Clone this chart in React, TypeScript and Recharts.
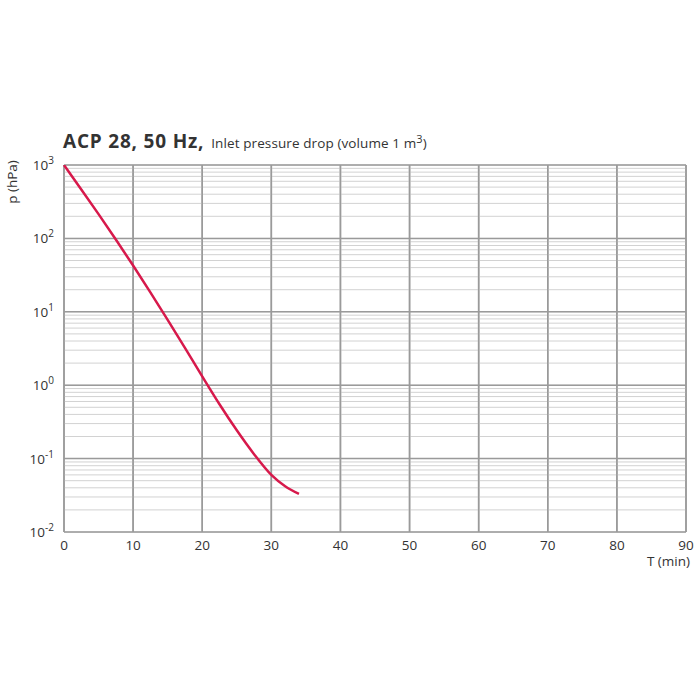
import React from 'react';
import { LineChart, Line, XAxis, YAxis, CartesianGrid, ReferenceLine } from 'recharts';

// inlet pressure drop, ACP 28 @ 50 Hz, 1 m3 volume
const timeMin = [0, 2.5, 5, 7.5, 10, 12.5, 15, 17.5, 20, 22.5, 25, 27.5, 30, 32, 34];
const pressureHpa = [1000, 465, 214, 96.6, 42.7, 18.4, 7.76, 3.22, 1.32, 0.55, 0.243, 0.115, 0.06, 0.042, 0.033];

const xTicks = [0, 10, 20, 30, 40, 50, 60, 70, 80, 90];
const decades = [0.01, 0.1, 1, 10, 100, 1000];
const mantissas = [1, 2, 3, 4, 5, 6, 7, 8, 9];

const data = timeMin.map((t, i) => ({ t, p: pressureHpa[i] }));
const minorTicks = decades.slice(0, -1).flatMap((d) => mantissas.map((m) => +(m * d).toPrecision(3))).concat([1000]);

const FONT = '"Open Sans", "DejaVu Sans", sans-serif';
const TEXT = '#333';

const DecadeTick = ({ x, y, payload }: any) => {
  const v = payload.value;
  const exp = Math.round(Math.log10(v));
  if (Math.abs(v - Math.pow(10, exp)) > 1e-9 * v) return null;
  return (
    <text x={x - 2} y={y + 5} textAnchor="end" fontSize={13.5} fill={TEXT} fontFamily={FONT}>
      10
      <tspan dy={-6} fontSize={10}>{exp}</tspan>
    </text>
  );
};

export default function App() {
  return (
    <div style={{ position: 'absolute', left: 0, top: 0, width: 700, height: 700, background: '#fff', fontFamily: FONT }}>
      <div style={{ position: 'absolute', left: 63, top: 128, whiteSpace: 'nowrap', color: TEXT }}>
        <span style={{ fontSize: 19, fontWeight: 700, letterSpacing: 0.8 }}>ACP 28, 50 Hz,</span>
        <span style={{ fontSize: 13.5, marginLeft: 7, letterSpacing: 0.1 }}>
          Inlet pressure drop (volume 1 m<sup style={{ fontSize: 11 }}>3</sup>)
        </span>
      </div>
      <div
        style={{
          position: 'absolute',
          left: 12,
          top: 182,
          transform: 'translate(-50%, -50%) rotate(-90deg)',
          fontSize: 13.5,
          color: TEXT,
          whiteSpace: 'nowrap',
        }}
      >
        p (hPa)
      </div>
      <div style={{ position: 'absolute', right: 10, top: 552, fontSize: 13.5, color: TEXT }}>T (min)</div>
      <LineChart width={700} height={700} data={data} margin={{ top: 165, right: 14, bottom: 138, left: 24 }}>
        <CartesianGrid horizontal={false} stroke="#9a9a9a" strokeWidth={1.5} />
        <XAxis
          dataKey="t"
          type="number"
          domain={[0, 90]}
          ticks={xTicks}
          axisLine={false}
          tickLine={false}
          height={30}
          tick={{ fontSize: 13.5, fill: TEXT, fontFamily: FONT }}
          tickMargin={2}
        />
        <YAxis
          dataKey="p"
          scale="log"
          domain={[0.01, 1000]}
          ticks={minorTicks}
          allowDataOverflow
          axisLine={false}
          tickLine={false}
          width={40}
          tick={<DecadeTick />}
          interval={0}
        />
        {minorTicks.map((v) => (
          <ReferenceLine key={'m' + v} y={v} stroke="#d2d2d2" strokeWidth={1} />
        ))}
        {xTicks.map((v) => (
          <ReferenceLine key={'x' + v} x={v} stroke="#9a9a9a" strokeWidth={1.5} />
        ))}
        {decades.map((v) => (
          <ReferenceLine key={'d' + v} y={v} stroke="#9a9a9a" strokeWidth={1.5} />
        ))}
        <Line
          dataKey="p"
          type="monotone"
          stroke="#d7194b"
          strokeWidth={2.5}
          dot={false}
          isAnimationActive={false}
        />
      </LineChart>
    </div>
  );
}
